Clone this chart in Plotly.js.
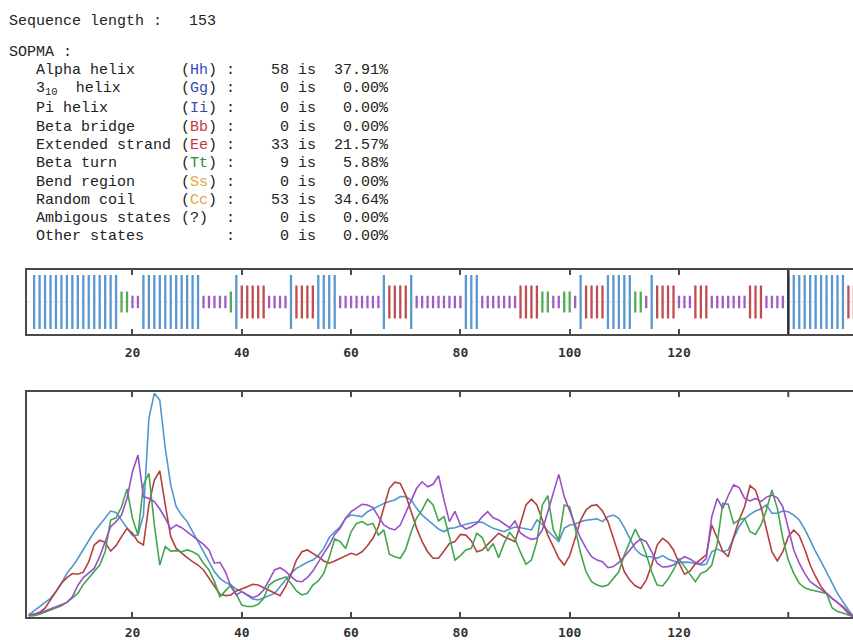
<!DOCTYPE html>
<html>
<head>
<meta charset="utf-8">
<script src="https://cdn.plot.ly/plotly-3.0.1.min.js"></script>
<style>
html,body{margin:0;padding:0;background:#fff;overflow:hidden;width:853px;height:640px;}
#chart{width:880px;height:640px;}
</style>
</head>
<body>
<div id="chart"></div>
<script>
// ---------------- DATA ----------------
const seqLength = 153;
const stateNames = ['Alpha helix', '3<sub>10</sub>  helix', 'Pi helix', 'Beta bridge', 'Extended strand',
  'Beta turn', 'Bend region', 'Random coil', 'Ambigous states', 'Other states'];
const stateCodes = ['Hh', 'Gg', 'Ii', 'Bb', 'Ee', 'Tt', 'Ss', 'Cc', '?', ''];
const stateCounts = [58, 0, 0, 0, 33, 9, 0, 53, 0, 0];
const statePercents = ['37.91', '0.00', '0.00', '0.00', '21.57', '5.88', '0.00', '34.64', '0.00', '0.00'];

// predicted state per residue (1..153)
const sopmaStates = (
  'HHHHHHHHHHHHHHHH' + 'TT' + 'CC' + 'HHHHHHHHHHH' + 'CCCCC' + 'T' + 'H' + 'EEEEE' + 'CCCC' + 'H' +
  'EEEE' + 'HHHH' + 'CCCCCCCC' + 'H' + 'EEEE' + 'H' + 'CCCCCCCCC' + 'HHH' + 'CCCCCCC' + 'EEEE' +
  'TT' + 'CC' + 'TT' + 'C' + 'H' + 'EEEE' + 'HHHHH' + 'TT' + 'C' + 'H' + 'EEEE' + 'CCC' + 'EEE' +
  'CCCCCCC' + 'EEE' + 'CCCC' + 'HHHHHHHHHHH' + 'EE' + 'HH'
).split('');

const xTicks = [20, 40, 60, 80, 100, 120];
const xTickText = ['20', '40', '60', '80', '100', '120'];
const unlabelledTick = 140;

// score curves, residues 1..153
const helixScore = [0.9, 2.7, 4.6, 6.5, 8.3, 11.3, 15, 19.4, 22.4, 26, 29.8, 34.2, 37.9, 40.9, 43.9, 47.1, 46.5, 43.1, 39.4, 36.1,
  36.4, 45.3, 88.3, 99.4, 96.4, 75, 58.7, 49, 45.3, 42.4, 37.9, 33.5, 29, 24.6, 20.1, 17.2, 15.4, 14.2, 12.4,
  11.3, 9.5, 8, 7.6, 8.6, 9.8, 10.5, 13.5, 16.4, 19.4, 21.6, 23.1, 24.3, 25.3, 27.3, 30.5, 35.3, 37.9, 40.1, 43.9,
  45.3, 45, 44.6, 46.8, 48, 49.5, 50.5, 51.3, 52, 53.5, 53.5, 52, 48.3, 45.3, 43.1, 41.2, 39.1, 37.9, 39.4,
  39.7, 40.6, 41.2, 41.8, 42.2, 42.1, 40.6, 39.4, 38.7, 37.9, 39.1, 40, 39.7, 39.1, 38.7, 43.1, 41.2, 38.2, 35.7,
  33.5, 39.4, 40.9, 41.2, 42.4, 43, 43.3, 43.6, 42.4, 44.6, 45.3, 43.9, 39.7, 35, 30.2, 27.9, 26.8, 26.8, 26.1,
  27.3, 25.8, 24.9, 24.3, 24.4, 24.3, 23.7, 23.1, 23.4, 29, 30.2, 29, 29.8, 35, 40.1, 43.6, 45.6, 47.1, 48, 49.8,
  46.1, 46.1, 47.1, 46.8, 45.3, 43.1, 39.1, 34.2, 29, 24.6, 20.1, 15.4, 10.5, 6.8, 3.1, 0, 0];
const sheetScore = [0.9, 1.2, 2.1, 3.9, 7.6, 11.3, 15, 17.5, 19.3, 19, 19.9, 24.6, 32, 34.1, 33.2, 29.3, 31.7, 35.7, 39.4, 37.2,
  33.5, 32, 49.8, 60.9, 64.9, 49.8, 35.7, 30.5, 28.3, 26.4, 24.6, 23.1, 20.9, 17.2, 13.5, 10.1, 9.5, 9.8, 11.6,
  12.4, 13.5, 14.5, 14.2, 13, 12, 10.7, 9.5, 13.5, 18.7, 25.3, 29, 29.8, 28.3, 26.8, 24.9, 23.9, 24.9, 26.1, 27.3,
  28.3, 27.6, 29, 31.7, 35, 40.1, 49, 57.2, 59.9, 59.4, 54.2, 46.8, 39.4, 33.5, 29, 26.1, 26.1, 29.3, 32.7,
  33.5, 36.7, 36.4, 33.8, 29, 29.8, 32.3, 35, 37.2, 35.7, 34.7, 33.5, 41.6, 49.8, 52.4, 49.8, 43.1, 36.4, 31.3,
  26.1, 23.1, 27.3, 35, 43.1, 47.6, 49.5, 49.8, 47.1, 42.4, 35.3, 27.6, 20.1, 16.4, 13.9, 12.7, 16.4, 23.1, 32,
  35, 33.2, 29.8, 23.9, 19, 20.4, 23.7, 25.8, 27.6, 40.9, 34.7, 29.3, 26.8, 35.7, 43.1, 49, 58.4, 56.4, 49, 39.4,
  29, 24.9, 29, 35.7, 38.7, 36.1, 30.2, 23.1, 17.9, 13.5, 10.5, 8.3, 6.5, 4.6, 2.1, 0, 0];
const turnScore = [0.5, 0.6, 1.2, 2.1, 3, 3.9, 5, 6.5, 8.6, 10.5, 14.5, 17.2, 19.9, 23.1, 29, 43.1, 44.1, 49, 56.9, 43.9,
  36.4, 58.7, 63.9, 40.9, 23.1, 31.3, 29.3, 29.5, 29, 29.8, 29, 27.6, 23.9, 20.9, 15.7, 9, 11.6, 14.2, 10,
  5.3, 4.7, 4.7, 5.6, 8.3, 14.2, 16, 16.9, 17.8, 15, 11.6, 9.8, 10.5, 14.2, 16, 19.4, 26.4, 34.7, 33.5, 30.5,
  37.9, 41.6, 42.4, 40.9, 41.6, 36.4, 38.7, 27.9, 26.8, 26.1, 30.2, 37.9, 44.1, 47.6, 52.4, 49.8, 42.7, 44.6, 35.7,
  25.3, 27.3, 29.8, 30.5, 37.2, 35.3, 29.3, 32.7, 26.4, 32.7, 37.6, 34.7, 28.7, 23.4, 25.3, 33.5, 49.8, 53.9, 38.7,
  34.2, 49.8, 49, 39.4, 28.3, 20.1, 15.7, 14.2, 13.5, 14.2, 16.9, 20.1, 27.6, 33.5, 39.1, 34.2, 27.9, 20.1, 14.2,
  13.8, 16.9, 20.9, 25.8, 22.4, 19, 15.7, 19.4, 20.4, 23.1, 32.7, 50.5, 50.1, 41.6, 43.1, 43.9, 37.9, 36.7, 40.9, 47.6,
  56.4, 48.3, 35, 25.3, 19.4, 15, 13, 12.1, 11.6, 11.3, 10.5, 4.1, 2.4, 1.8, 0.9, 0, 0];
const coilScore = [0.9, 1.2, 1.8, 2.7, 3.6, 4.4, 5.3, 6.5, 9, 14, 17.5, 19.4, 21.6, 26.8, 33.5, 40.1, 42.4, 45.3, 52.7, 64.6,
  72, 53.5, 52.7, 51.3, 48, 43.9, 39.1, 40.9, 39.7, 37.9, 36.1, 34.2, 32.3, 29.8, 23.9, 24.3, 20.1, 13.5, 9.8,
  11.3, 10.1, 8.6, 9.5, 12, 16.4, 20.9, 21.9, 20.4, 17.9, 16, 15.7, 17.5, 20.4, 24.6, 28.3, 32, 36.7, 39.4, 43.9,
  46.8, 48.6, 50.1, 49.8, 48.6, 44.6, 40.9, 39.4, 38.7, 40.9, 46.1, 51.3, 57.2, 60.1, 57.9, 59, 62.8, 52, 42.4,
  47, 40.9, 39.1, 40.1, 41.6, 44.6, 46.8, 44.1, 43.1, 41.2, 39.7, 42.7, 37.2, 35.7, 34.5, 35, 38.7, 46.8, 55.7,
  63.4, 53.5, 46.8, 40.9, 35, 30.5, 26.8, 25.3, 24.6, 21.9, 22.4, 24.3, 26.8, 29.8, 32.7, 34.7, 33.5, 29, 23.9,
  22.2, 22.4, 23.1, 25.3, 26.8, 25.8, 24.3, 23.6, 26.1, 44.6, 52.7, 48.3, 53.9, 58.7, 57.5, 52.7, 51.6, 52.7, 51.3,
  53.3, 54.2, 53, 49, 39.4, 29.8, 23.9, 19.4, 15.7, 13.9, 12.4, 10.5, 8.3, 6.5, 4.1, 1.6, 0, 0];

// ---------------- STYLE ----------------
const W = 880, H = 640;
const px = v => v / W;
const py = v => 1 - v / H;
const barStyle = {
  H: {color: '#5a98cf', h: 54},
  E: {color: '#bd4d51', h: 33},
  T: {color: '#52ac52', h: 21},
  C: {color: '#a15cc6', h: 12.5}
};
const codeColor = {Hh: '#3a48b8', Gg: '#3a48b8', Ii: '#3a48b8', Bb: '#c23a3a', Ee: '#c23a3a',
  Tt: '#2c8a3c', Ss: '#e3a83a', Cc: '#e3a83a'};
const lineColors = {helix: '#5096cc', sheet: '#b3403f', turn: '#43a54e', coil: '#9a4fc8'};
const textFont = {family: 'Liberation Mono, Courier New, monospace', size: 15, color: '#222'};
const rowY = [70, 88.5, 108.5, 127, 145.5, 163.5, 182, 200, 218.5, 236.5];
const colX = c => 9 + c * 9.04;
const axisColor = '#4a4a4a';

const nb = s => s.replace(/ /g, '\u00a0');

// ---------------- TRACES ----------------
const traces = [];
Object.keys(barStyle).forEach(k => {
  const xs = [], ys = [], bs = [];
  sopmaStates.forEach((s, i) => {
    if (s === k) { xs.push(i + 2); ys.push(barStyle[k].h); bs.push(-barStyle[k].h / 2); }
  });
  traces.push({type: 'bar', x: xs, y: ys, base: bs, width: 0.42, xaxis: 'x', yaxis: 'y',
    marker: {color: barStyle[k].color, line: {width: 0}}, hoverinfo: 'skip'});
});
const resid = helixScore.map((_, i) => i + 1);
[['helix', helixScore], ['sheet', sheetScore], ['turn', turnScore], ['coil', coilScore]].forEach(([n, arr]) => {
  traces.push({type: 'scatter', mode: 'lines', x: resid, y: arr, xaxis: 'x2', yaxis: 'y2',
    line: {color: lineColors[n], width: 1.6}, hoverinfo: 'skip'});
});

// ---------------- TEXT ----------------
const ann = [];
function addText(x, y, t) {
  ann.push({xref: 'paper', yref: 'paper', x: px(x), y: py(y), xanchor: 'left', yanchor: 'middle',
    text: t, showarrow: false, font: textFont, align: 'left', borderpad: 0, borderwidth: 0});
}
addText(colX(0), 21.5, nb('Sequence length :   ' + seqLength));
addText(colX(0), 53, nb('SOPMA :'));
stateNames.forEach((name, i) => {
  addText(colX(3), rowY[i], nb(name));
  const code = stateCodes[i];
  let codeStr;
  if (code === '') codeStr = nb('    ');
  else if (codeColor[code]) codeStr = '(<span style="color:' + codeColor[code] + '">' + code + '</span>)';
  else codeStr = '(' + code + ')' + nb(' ');
  const rest = nb(' :' + String(stateCounts[i]).padStart(6) + ' is' + (statePercents[i] + '%').padStart(8));
  addText(colX(19), rowY[i], codeStr + rest);
});

// ---------------- LAYOUT ----------------
const xr = [0.7, 156.78];
const axisCommon = {
  range: xr, domain: [px(27), 1], showline: true, mirror: 'ticks', linewidth: 2, linecolor: axisColor,
  ticks: 'inside', ticklen: 5, tickwidth: 2, tickcolor: axisColor, tickvals: xTicks, ticktext: xTickText,
  tickfont: {family: 'DejaVu Sans Mono, monospace', size: 13, color: '#333', weight: 'bold'},
  showgrid: false, zeroline: false, fixedrange: true
};
const yCommon = {showline: true, mirror: true, linewidth: 2, linecolor: axisColor, showticklabels: false,
  ticks: '', showgrid: false, zeroline: false, fixedrange: true};

const lowerTickFrac = 5 / 225;
const layout = {
  width: W, height: H, margin: {l: 0, r: 0, t: 0, b: 0},
  paper_bgcolor: '#fff', plot_bgcolor: '#fff', showlegend: false, barmode: 'overlay', hovermode: false,
  xaxis: Object.assign({}, axisCommon, {anchor: 'y', ticklabelstandoff: 5}),
  yaxis: Object.assign({}, yCommon, {domain: [py(334), py(270)], range: [-32, 32], anchor: 'x'}),
  xaxis2: Object.assign({}, axisCommon, {anchor: 'y2', ticklabelstandoff: 2}),
  yaxis2: Object.assign({}, yCommon, {domain: [py(617), py(392)], range: [0, 100], anchor: 'x2'}),
  annotations: ann,
  shapes: [
    {type: 'line', xref: 'x domain', yref: 'y', x0: 0, x1: 1, y0: 0, y1: 0,
      line: {color: 'rgba(185,130,210,0.35)', width: 1, dash: 'dot'}, layer: 'below'},
    {type: 'line', xref: 'x', yref: 'y domain', x0: unlabelledTick, x1: unlabelledTick, y0: 0, y1: 1,
      line: {color: '#333', width: 2.5}},
    {type: 'line', xref: 'x2', yref: 'y2 domain', x0: unlabelledTick, x1: unlabelledTick, y0: 0, y1: lowerTickFrac,
      line: {color: axisColor, width: 2}},
    {type: 'line', xref: 'x2', yref: 'y2 domain', x0: unlabelledTick, x1: unlabelledTick, y0: 1 - lowerTickFrac, y1: 1,
      line: {color: axisColor, width: 2}}
  ]
};

Plotly.newPlot('chart', traces, layout, {staticPlot: true, displayModeBar: false});
</script>
</body>
</html>
